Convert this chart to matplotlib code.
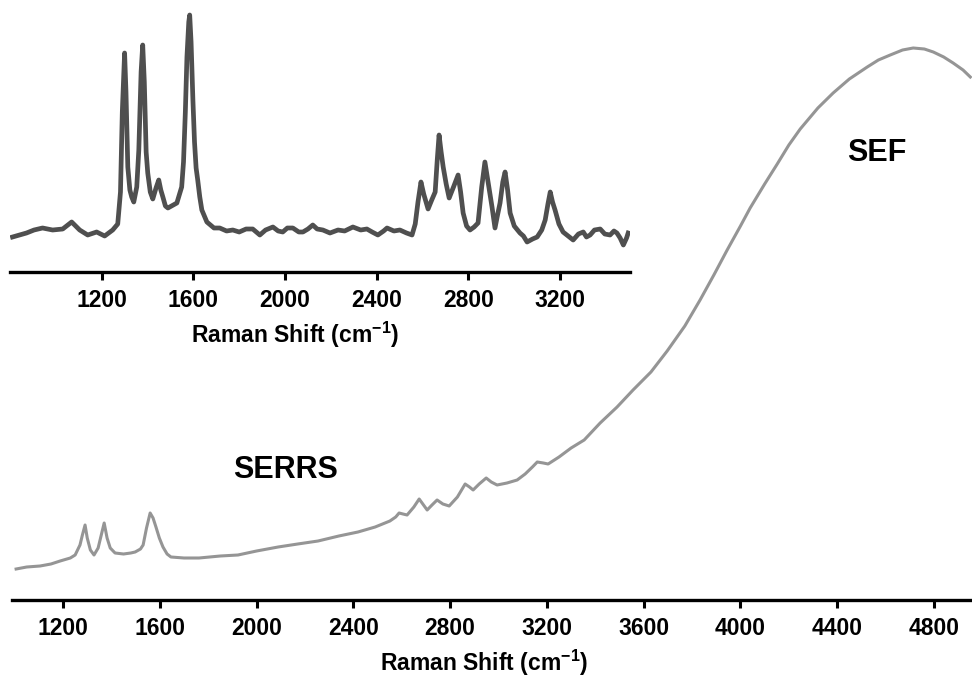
import numpy as np
import matplotlib
matplotlib.use("Agg")
import matplotlib.pyplot as plt

plt.rcParams["font.family"] = ["Liberation Sans", "DejaVu Sans"]
plt.rcParams["font.weight"] = "bold"
plt.rcParams["mathtext.fontset"] = "custom"
plt.rcParams["mathtext.rm"] = "Liberation Sans:bold"
plt.rcParams["mathtext.it"] = "Liberation Sans:bold"
plt.rcParams["mathtext.bf"] = "Liberation Sans:bold"

# full spectrum: SERRS bands sitting on the broad SEF background (a.u.)
shift = [1006, 1050, 1105, 1150, 1188, 1230, 1250, 1270, 1280, 1291,
         1300, 1313, 1328, 1345, 1358, 1370, 1382, 1395, 1415, 1450,
         1480, 1498, 1520, 1531, 1545, 1560, 1572, 1584, 1598, 1613,
         1630, 1646, 1700, 1762, 1850, 1923, 2000, 2089, 2170, 2254,
         2340, 2419, 2490, 2551, 2575, 2589, 2605, 2622, 2650, 2672,
         2690, 2705, 2725, 2746, 2770, 2796, 2830, 2862, 2880, 2895,
         2920, 2949, 2970, 2994, 3035, 3077, 3110, 3140, 3160, 3185,
         3205, 3250, 3300, 3354, 3420, 3490, 3556, 3630, 3697, 3770,
         3833, 3890, 3945, 4000, 4040, 4100, 4152, 4200, 4247, 4320,
         4383, 4450, 4524, 4570, 4619, 4670, 4714, 4760, 4797, 4840,
         4879, 4920, 4950]
intensity = [31, 33, 34, 36, 39, 42, 45, 55, 65, 75,
             62, 50, 45, 52, 65, 77, 62, 52, 47, 46,
             47, 48, 51, 55, 72, 87, 82, 73, 62, 53,
             46, 43, 42, 42, 44, 45, 49, 53, 56, 59,
             64, 68, 73, 79, 83, 87, 86, 85, 93, 101,
             95, 90, 95, 100, 96, 94, 103, 116, 113, 110,
             116, 122, 118, 115, 117, 120, 126, 133, 138, 137,
             136, 143, 152, 160, 177, 193, 210, 228, 249, 274,
             300, 325, 350, 374, 392, 416, 436, 455, 471, 492,
             507, 521, 533, 540, 545, 550, 552, 551, 548, 543,
             537, 530, 523]

# background-subtracted SERRS spectrum (inset)
serrs_shift = [811, 842, 872, 905, 942, 986, 1030, 1069, 1104, 1139,
               1178, 1213, 1248, 1270, 1282, 1290, 1300, 1306, 1314, 1323,
               1331, 1340, 1353, 1362, 1372, 1379, 1386, 1394, 1401, 1412,
               1423, 1437, 1449, 1458, 1467, 1478, 1489, 1505, 1528, 1549,
               1557, 1565, 1572, 1580, 1584, 1590, 1598, 1605, 1612, 1619,
               1628, 1637, 1659, 1690, 1715, 1745, 1772, 1800, 1830, 1859,
               1890, 1915, 1947, 1970, 1990, 2010, 2034, 2060, 2078, 2100,
               2121, 2140, 2165, 2196, 2231, 2260, 2296, 2330, 2357, 2380,
               2405, 2430, 2445, 2475, 2501, 2530, 2554, 2568, 2580, 2593,
               2605, 2624, 2640, 2655, 2664, 2672, 2681, 2690, 2703, 2716,
               2735, 2755, 2766, 2777, 2792, 2807, 2825, 2842, 2858, 2872,
               2887, 2903, 2916, 2928, 2938, 2950, 2960, 2971, 2982, 3000,
               3025, 3040, 3056, 3080, 3100, 3120, 3135, 3147, 3157, 3167,
               3178, 3195, 3213, 3235, 3257, 3280, 3301, 3315, 3331, 3350,
               3375, 3395, 3418, 3435, 3448, 3462, 3476, 3490, 3497]
serrs_int = [35, 37, 39, 42, 44, 42, 43, 50, 42, 37,
             40, 36, 42, 48, 80, 160, 219, 180, 105, 82,
             75, 70, 85, 122, 200, 227, 190, 120, 99, 80,
             73, 84, 92, 82, 75, 66, 64, 66, 69, 85,
             110, 160, 215, 250, 257, 230, 172, 130, 104, 92,
             75, 62, 50, 44, 44, 41, 42, 40, 43, 43,
             37, 42, 45, 41, 40, 44, 44, 40, 40, 43,
             47, 43, 42, 39, 42, 41, 45, 42, 43, 40,
             37, 41, 44, 41, 42, 39, 37, 48, 70, 90,
             78, 63, 72, 80, 112, 137, 120, 105, 88, 74,
             85, 97, 80, 59, 46, 42, 45, 49, 85, 110,
             88, 65, 44, 58, 69, 90, 100, 82, 59, 46,
             39, 36, 30, 33, 35, 42, 52, 68, 80, 70,
             62, 48, 40, 36, 32, 38, 40, 35, 37, 42,
             43, 38, 37, 41, 39, 34, 27, 34, 39]

main_ticks = np.arange(1200, 4801, 400)
inset_ticks = np.arange(1200, 3201, 400)

fig = plt.figure(figsize=(9.72, 6.8), dpi=100)

ax = fig.add_axes([12 / 972, 80 / 680, 960 / 972, 600 / 680])
ax.plot(shift, intensity, color="#959595", lw=2.2)
ax.set_xlim(989, 4957)
ax.set_ylim(0, 600)
ax.set_xticks(main_ticks)
ax.set_yticks([])
for s in ["top", "right", "left"]:
    ax.spines[s].set_visible(False)
ax.spines["bottom"].set_linewidth(2.4)
ax.tick_params(axis="x", direction="out", length=6, width=2.2, pad=6,
               labelsize=16.5)
ax.set_xlabel(r"Raman Shift (cm$^{-1}$)", fontsize=16.5, fontweight="bold")
ax.xaxis.set_label_coords(0.492, -0.08)
ax.text(2118, 130, "SERRS", fontsize=22, fontweight="bold",
        ha="center", va="center")
ax.text(4565, 447, "SEF", fontsize=22, fontweight="bold",
        ha="center", va="center")
ax.patch.set_alpha(0)

ins = fig.add_axes([10 / 972, 408 / 680, 620 / 972, 272 / 680])
ins.plot(serrs_shift, serrs_int, color="#4f4f4f", lw=3.4)
ins.set_xlim(800, 3505)
ins.set_ylim(0, 272)
ins.set_xticks(inset_ticks)
ins.set_yticks([])
for s in ["top", "right", "left"]:
    ins.spines[s].set_visible(False)
ins.spines["bottom"].set_linewidth(2.4)
ins.tick_params(axis="x", direction="out", length=6, width=2.2, pad=6,
                labelsize=16.5)
ins.set_xlabel(r"Raman Shift (cm$^{-1}$)", fontsize=16.5, fontweight="bold")
ins.xaxis.set_label_coords(0.46, -0.175)
ins.patch.set_alpha(0)

fig.savefig("out.png", dpi=100)
